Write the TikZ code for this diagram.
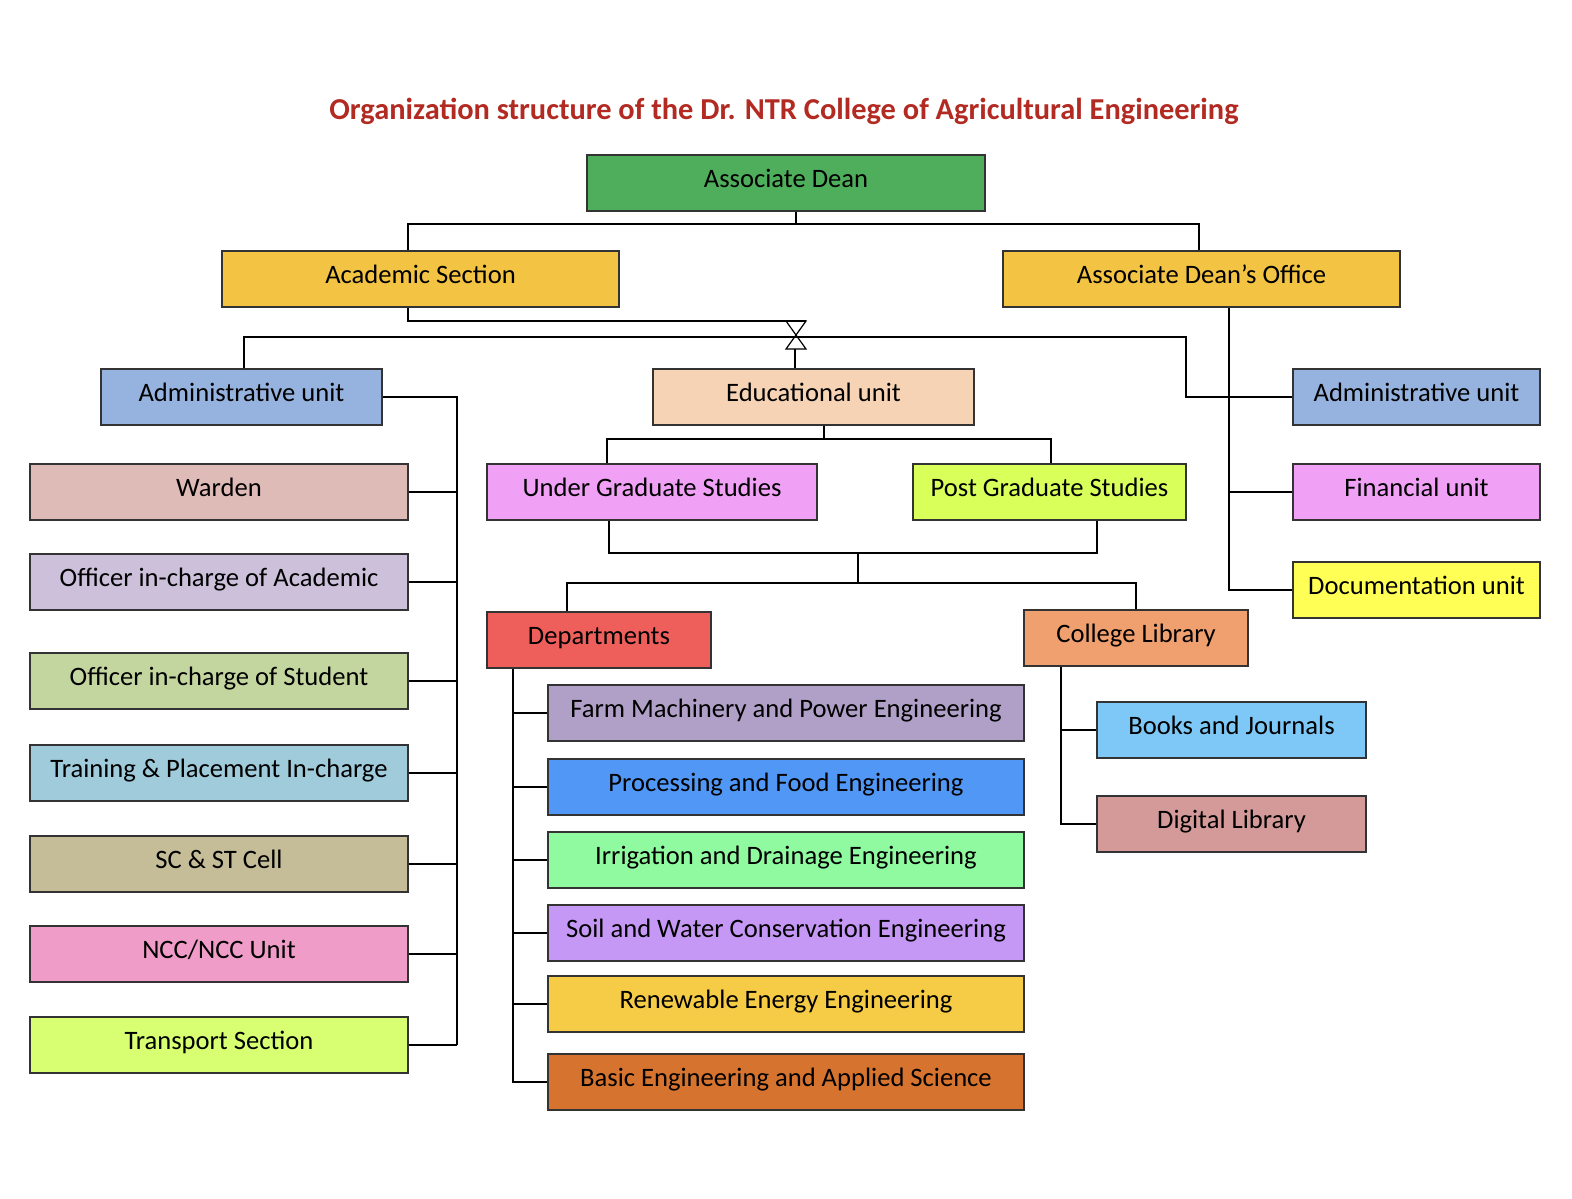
\documentclass[tikz,border=0pt]{standalone}
\usepackage{fontspec}
\setmainfont{Carlito}
\definecolor{deangreen}{HTML}{4EAE5B}
\definecolor{secyellow}{HTML}{F3C343}
\definecolor{unitblue}{HTML}{95B3DE}
\definecolor{edupeach}{HTML}{F5D3B4}
\definecolor{studypink}{HTML}{F0A0F5}
\definecolor{studylime}{HTML}{D8FF5A}
\definecolor{docyellow}{HTML}{FFFF55}
\definecolor{titlered}{HTML}{B22A22}
\begin{document}
\begin{tikzpicture}[x=.5pt,y=-.5pt,font=\fontsize{13.3}{16}\selectfont,
  box/.style={draw=black!80,line width=.8pt,inner sep=0pt,minimum height=28pt,text height=.7em,text depth=.25em},
  wd/.style={minimum width=#1*.5pt},
  every path/.style={line width=.6pt}]
\useasboundingbox (0,0) rectangle (1572,1198);
\node[font=\fontsize{15.2}{18}\selectfont\bfseries,text=titlered] (title) at (784,111){Organization structure of the Dr. NTR College of Agricultural Engineering};
% top levels
\node[box,wd=398,fill=deangreen] (dean) at (786,183){Associate Dean};
\node[box,wd=397,fill=secyellow] (acad) at (420.5,279){Academic Section};
\node[box,wd=397,fill=secyellow] (adoff) at (1201.5,279){Associate Dean’s Office};
\node[box,wd=281,fill=unitblue] (admL) at (241.5,397){Administrative unit};
\node[box,wd=321,fill=edupeach] (edu) at (813.5,397){Educational unit};
\node[box,wd=247,fill=unitblue] (admR) at (1416.5,397){Administrative unit};
\node[box,wd=247,fill=studypink] (fin) at (1416.5,492){Financial unit};
\node[box,wd=247,fill=docyellow] (doc) at (1416.5,590){Documentation unit};
\node[box,wd=330,fill=studypink] (ug) at (652,492){Under Graduate Studies};
\node[box,wd=273,fill=studylime] (pg) at (1049.5,492){Post Graduate Studies};
\node[box,wd=224,fill={rgb,255:red,238;green,95;blue,91}] (dept) at (599,640){Departments};
\node[box,wd=224,fill={rgb,255:red,240;green,159;blue,111}] (lib) at (1136,638){College Library};
% left column
\foreach \n/\y/\t/\c in {warden/492/Warden/{223,187,184},offac/582/Officer in-charge of Academic/{204,192,218},offst/681/Officer in-charge of Student/{196,214,159},train/773/Training \& Placement In-charge/{159,203,218},scst/864/SC \& ST Cell/{196,189,151},ncc/954/{NCC/NCC Unit}/{239,156,200},trans/1045/Transport Section/{216,255,114}}{
  \definecolor{fillc}{RGB}{\c}
  \node[box,wd=378,fill=fillc] (\n) at (219,\y){\t};}
% departments
\foreach \n/\y/\t/\c in {farm/713/Farm Machinery and Power Engineering/{176,160,200},proc/787/Processing and Food Engineering/{81,151,245},irr/860/Irrigation and Drainage Engineering/{143,250,159},soil/933/Soil and Water Conservation Engineering/{197,152,245},renew/1004/Renewable Energy Engineering/{246,203,69},basic/1082/Basic Engineering and Applied Science/{214,116,47}}{
  \definecolor{fillc}{RGB}{\c}
  \node[box,wd=476,fill=fillc] (\n) at (786,\y){\t};}
% library
\node[box,wd=269,fill={rgb,255:red,126;green,200;blue,248}] (books) at (1231.5,730){Books and Journals};
\node[box,wd=269,fill={rgb,255:red,212;green,154;blue,154}] (dig) at (1231.5,824){Digital Library};
% connectors
\draw (796,0 |- dean.south) -- (796,224);
\draw (408,0 |- acad.north) |- (1199,224) -- (1199,0 |- adoff.north);
\draw (408,0 |- acad.south) |- (806,321);
\draw (786,321) -- (806,321) -- (786,349) -- (806,349) -- cycle;
\draw (244,0 |- admL.north) |- (1186,337) |- (admR.west);
\draw (795,349) -- (795,0 |- edu.north);
\draw (1229,0 |- adoff.south) |- (doc.west);
\draw (fin.west) -- (1229,0 |- fin.west);
\draw (admL.east) -| (457,0 |- trans.east);
\foreach \n in {warden,offac,offst,train,scst,ncc,trans}
  \draw (\n.east) -- (457,0 |- \n.east);
\draw (824,0 |- edu.south) -- (824,439);
\draw (607,0 |- ug.north) |- (1051,439) -- (1051,0 |- pg.north);
\draw (609,0 |- ug.south) |- (1097,553) -- (1097,0 |- pg.south);
\draw (858,553) -- (858,583);
\draw (567,0 |- dept.north) |- (1136,583) -- (1136,0 |- lib.north);
\draw (513,0 |- dept.south) |- (basic.west);
\foreach \n in {farm,proc,irr,soil,renew}
  \draw (\n.west) -- (513,0 |- \n.west);
\draw (1061,0 |- lib.south) |- (dig.west);
\draw (books.west) -- (1061,0 |- books.west);
\end{tikzpicture}
\end{document}
